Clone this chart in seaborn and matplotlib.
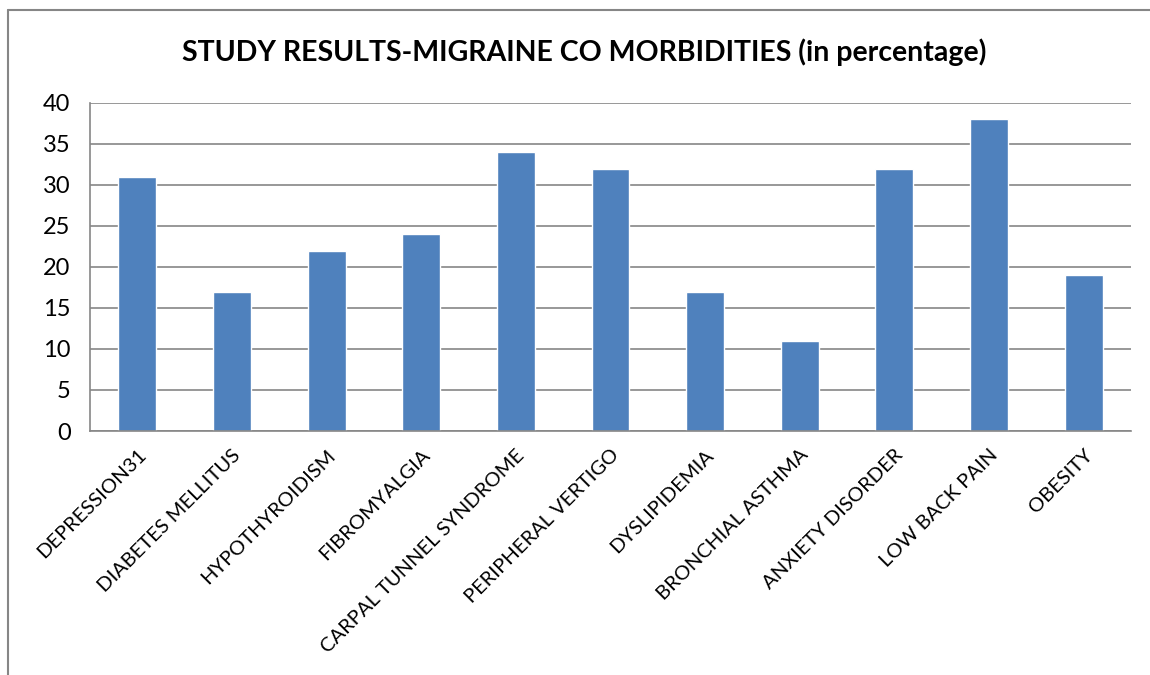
import matplotlib
matplotlib.use("Agg")
import matplotlib.pyplot as plt
import seaborn as sns
import pandas as pd
from matplotlib.lines import Line2D

categories = ["DEPRESSION31", "DIABETES MELLITUS", "HYPOTHYROIDISM", "FIBROMYALGIA",
              "CARPAL TUNNEL SYNDROME", "PERIPHERAL VERTIGO", "DYSLIPIDEMIA",
              "BRONCHIAL ASTHMA", "ANXIETY DISORDER", "LOW BACK PAIN", "OBESITY"]
values = [31, 17, 22, 24, 34, 32, 17, 11, 32, 38, 19]
y_ticks = [0, 5, 10, 15, 20, 25, 30, 35, 40]
title = "STUDY RESULTS-MIGRAINE CO MORBIDITIES (in percentage)"

sns.set_theme(style="white")
plt.rcParams['font.family'] = ['Lato', 'DejaVu Sans']

df = pd.DataFrame({"cat": categories, "val": values})

fig = plt.figure(figsize=(11.5, 6.75), dpi=100)
ax = fig.add_axes([90/1150, 1-431/675, (1131-90)/1150, (431-103)/675])

sns.barplot(data=df, x="cat", y="val", color="#4F81BD", saturation=1, width=0.4, ax=ax)

gray = "#868686"
ax.set_ylim(0, 40)
ax.set_xlim(-0.5, len(categories)-0.5)
ax.set_yticks(y_ticks)
ax.set_yticklabels([str(t) for t in y_ticks], fontsize=17)
ax.yaxis.grid(True, color=gray, linewidth=1.2)
ax.set_axisbelow(True)
ax.set_xlabel("")
ax.set_ylabel("")
for s in ["top", "right"]:
    ax.spines[s].set_visible(False)
for s in ["left", "bottom"]:
    ax.spines[s].set_color(gray)
    ax.spines[s].set_linewidth(1.2)

ax.set_xticks(range(len(categories)))
ax.set_xticklabels(categories, rotation=45, ha="right", rotation_mode="anchor", fontsize=14.5)
ax.tick_params(axis="x", which="major", length=0, pad=11)
ax.set_xticks([i - 0.5 for i in range(len(categories)+1)], minor=True)
ax.tick_params(axis="x", which="minor", length=6, width=1.2, color=gray, direction="out")
ax.tick_params(axis="y", length=8, width=1.2, color=gray, direction="out", pad=6)
ax.tick_params(axis="both", labelcolor="black")

fig.text(584/1150, 1-52/675, title, ha="center", va="center", fontsize=20.5,
         fontweight="bold", color="black")

# outer chart border (top and left visible)
fig.add_artist(Line2D([8/1150, 1.0], [1-10/675, 1-10/675], transform=fig.transFigure, color=gray, linewidth=1.5))
fig.add_artist(Line2D([8/1150, 8/1150], [0.0, 1-10/675], transform=fig.transFigure, color=gray, linewidth=1.5))

fig.savefig("out.png", dpi=100)
